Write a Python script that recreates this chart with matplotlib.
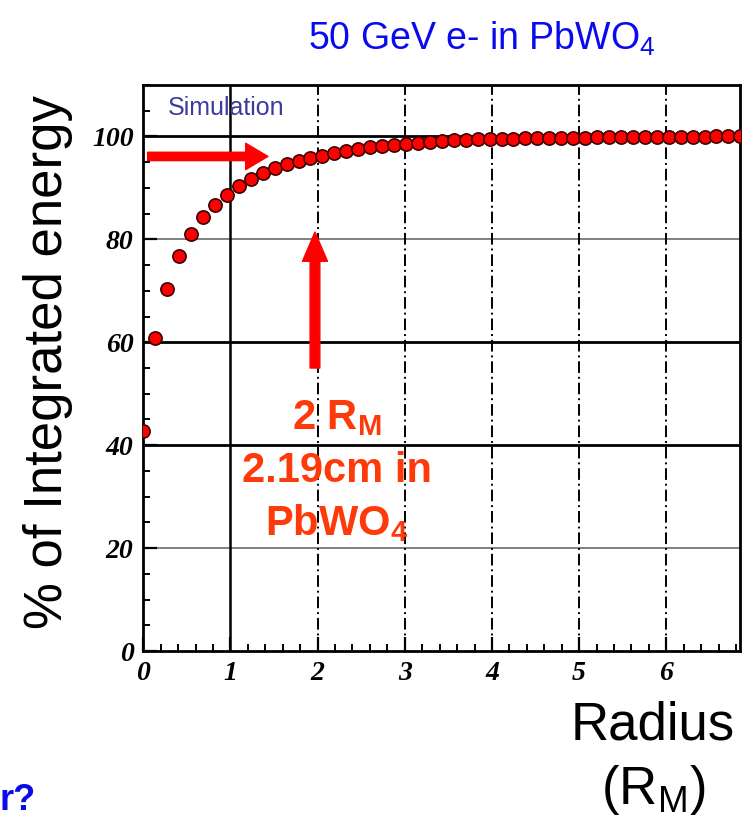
import numpy as np
import matplotlib.pyplot as plt
from matplotlib.patches import FancyArrowPatch, ArrowStyle
from matplotlib.ticker import MultipleLocator

plt.rcParams['font.family'] = ['Liberation Sans', 'DejaVu Sans']
plt.rcParams['mathtext.fontset'] = 'custom'
plt.rcParams['mathtext.rm'] = 'Liberation Sans'
plt.rcParams['mathtext.bf'] = 'Liberation Sans:bold'

# Radius in Moliere radii and integrated energy fraction (%)
radius = [0.000, 0.137, 0.274, 0.411, 0.548, 0.685, 0.822, 0.959, 1.096, 1.233,
          1.370, 1.507, 1.644, 1.781, 1.918, 2.055, 2.192, 2.329, 2.466, 2.603,
          2.740, 2.877, 3.014, 3.151, 3.288, 3.425, 3.562, 3.699, 3.836, 3.973,
          4.110, 4.247, 4.384, 4.521, 4.658, 4.795, 4.932, 5.069, 5.206, 5.343,
          5.480, 5.617, 5.754, 5.891, 6.028, 6.165, 6.302, 6.439, 6.576, 6.713,
          6.850]
energy = [42.7, 60.8, 70.4, 76.7, 81.0, 84.3, 86.7, 88.6, 90.4, 91.7,
          92.8, 93.8, 94.6, 95.2, 95.7, 96.2, 96.8, 97.2, 97.6, 97.9,
          98.1, 98.4, 98.6, 98.7, 98.9, 99.1, 99.2, 99.3, 99.4, 99.4,
          99.5, 99.5, 99.6, 99.6, 99.6, 99.7, 99.7, 99.7, 99.8, 99.8,
          99.8, 99.8, 99.9, 99.9, 99.9, 99.9, 99.9, 99.9, 100.0, 100.0,
          100.0]

fig = plt.figure(figsize=(7.5, 8.16), dpi=100)
ax = fig.add_axes([0.191, 0.202, 0.795, 0.694])
ax.set_xlim(0, 6.84)
ax.set_ylim(0, 110)

# сітка як у ROOT
for yv, col in [(20, '#808080'), (40, 'black'), (60, 'black'), (80, '#808080'), (100, 'black')]:
    ax.axhline(yv, color=col, lw=2.0 if col == 'black' else 1.4, zorder=1)
ax.axvline(1, color='black', lw=1.8, zorder=1)
for xv in [2, 3, 4, 5, 6]:
    ax.axvline(xv, color='black', lw=1.4, linestyle=(0, (6, 2, 1, 2)), zorder=1)

ax.plot(radius, energy, 'o', color='#ff0000', markeredgecolor='#3a0000',
        markeredgewidth=1.2, markersize=9.5, zorder=3, clip_on=True)

for s in ax.spines.values():
    s.set_linewidth(2.0)

ax.xaxis.set_major_locator(MultipleLocator(1))
ax.xaxis.set_minor_locator(MultipleLocator(0.2))
ax.yaxis.set_major_locator(MultipleLocator(20))
ax.yaxis.set_minor_locator(MultipleLocator(5))
ax.tick_params(which='major', direction='in', length=10, width=1.6, pad=7)
ax.tick_params(which='minor', direction='in', length=5, width=1.4)
ax.tick_params(top=False, right=False, which='both')
tick_font = dict(family='Liberation Serif', style='italic', weight='bold', size=20)
ax.set_xticks([0, 1, 2, 3, 4, 5, 6])
ax.set_xticklabels(['0', '1', '2', '3', '4', '5', '6'], fontdict=tick_font)
ax.set_yticks([0, 20, 40, 60, 80, 100])
ax.set_yticklabels(['0', '20', '40', '60', '80', '100'], fontdict=tick_font)

ax.text(0.28, 105.6, 'Simulation', color='#3c3c9c', fontsize=18, va='center', ha='left')

# стрілки
arr_h = FancyArrowPatch((0.05, 96.1), (1.43, 96.1),
                        arrowstyle=ArrowStyle.Simple(head_length=16, head_width=19, tail_width=6),
                        mutation_scale=1, color='#ff0000', shrinkA=0, shrinkB=0, zorder=4)
ax.add_patch(arr_h)
arr_v = FancyArrowPatch((1.97, 55.0), (1.97, 81.4),
                        arrowstyle=ArrowStyle.Simple(head_length=21, head_width=18, tail_width=7),
                        mutation_scale=1, color='#ff0000', shrinkA=0, shrinkB=0, zorder=4)
ax.add_patch(arr_v)

orange = '#ff3a0a'
fig.text(337 / 750, 1 - 418 / 816, r'2 R$_\mathbf{M}$', color=orange, fontsize=30,
         weight='bold', ha='center', va='center')
fig.text(337 / 750, 1 - 471 / 816, '2.19cm in', color=orange, fontsize=30,
         weight='bold', ha='center', va='center')
fig.text(337 / 750, 1 - 523 / 816, r'PbWO$_\mathbf{4}$', color=orange, fontsize=30,
         weight='bold', ha='center', va='center')

# підписи
fig.text(482 / 750, 1 - 39 / 816, r'50 GeV e- in PbWO$_\mathrm{4}$', color='#0a0aee',
         fontsize=27, ha='center', va='center')
fig.text(48 / 750, 1 - 362 / 816, '% of Integrated energy', rotation=90,
         fontsize=38, ha='center', va='center')
fig.text(653 / 750, 1 - 725 / 816, 'Radius', fontsize=38, ha='center', va='center')
fig.text(653 / 750, 1 - 790 / 816, r'(R$_\mathrm{M}$)', fontsize=38, ha='center', va='center')
fig.text(36 / 750, 1 - 800 / 816, 'r?', color='#0a0aee', fontsize=26, weight='bold',
         ha='right', va='center')

fig.savefig('out.png', dpi=100)
